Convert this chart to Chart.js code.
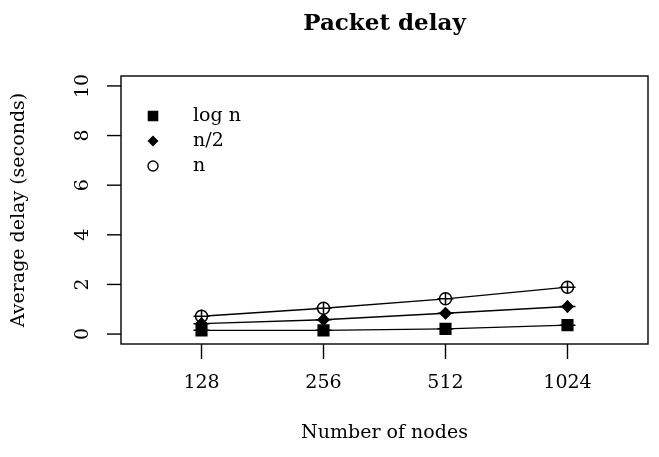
<!DOCTYPE html>
<html>
<head>
<meta charset="utf-8">
<script src="https://cdn.jsdelivr.net/npm/chart.js@4"></script>
<style>
  html, body { margin: 0; padding: 0; background: #fff; }
  #wrap { width: 659px; height: 457px; }
</style>
</head>
<body>
<div id="wrap"><canvas id="delayChart" width="659" height="457"></canvas></div>
<script>
// data
const nodes = ['128', '256', '512', '1024'];
const seriesNames = ['log n', 'n/2', 'n'];
const logN = [0.15, 0.15, 0.21, 0.36];
const halfN = [0.42, 0.58, 0.84, 1.11];
const fullN = [0.72, 1.04, 1.42, 1.89];
const logNErr = [0.22, 0.18, 0.18, 0.2];
const halfNErr = [0.2, 0.18, 0.22, 0.24];
const fullNErr = [0.26, 0.22, 0.24, 0.24];
const yTicks = [0, 2, 4, 6, 8, 10];

const serif = '"DejaVu Serif", "Liberation Serif", serif';

function pts(values) {
  return values.map((v, i) => ({ x: i, y: v }));
}

// R style axes, box, titles, error bars and legend
const baseGraphics = {
  id: 'baseGraphics',
  afterDatasetsDraw(chart) {
    const ctx = chart.ctx;
    const area = chart.chartArea;
    const xs = chart.scales.x;
    const ys = chart.scales.y;
    ctx.save();
    ctx.strokeStyle = '#000';
    ctx.fillStyle = '#000';

    // error bars
    const errs = [logNErr, halfNErr, fullNErr];
    ctx.lineWidth = 1.5;
    chart.data.datasets.forEach((ds, d) => {
      ds.data.forEach((p, i) => {
        const px = xs.getPixelForValue(p.x);
        const top = ys.getPixelForValue(p.y + errs[d][i]);
        const bot = ys.getPixelForValue(p.y - errs[d][i]);
        const mid = ys.getPixelForValue(p.y);
        ctx.beginPath();
        ctx.moveTo(px, top);
        ctx.lineTo(px, bot);
        ctx.moveTo(px - 8, mid);
        ctx.lineTo(px + 8, mid);
        ctx.stroke();
      });
    });

    // box
    ctx.lineWidth = 1.4;
    ctx.strokeRect(area.left, area.top, area.right - area.left, area.bottom - area.top);

    // y axis
    ctx.font = '19px ' + serif;
    yTicks.forEach(t => {
      const py = ys.getPixelForValue(t);
      ctx.beginPath();
      ctx.moveTo(area.left - 14, py);
      ctx.lineTo(area.left, py);
      ctx.stroke();
      ctx.save();
      ctx.translate(area.left - 38, py);
      ctx.rotate(-Math.PI / 2);
      ctx.textAlign = 'center';
      ctx.textBaseline = 'middle';
      ctx.fillText(String(t), 0, 0);
      ctx.restore();
    });

    // x axis
    nodes.forEach((lab, i) => {
      const px = xs.getPixelForValue(i);
      ctx.beginPath();
      ctx.moveTo(px, area.bottom);
      ctx.lineTo(px, area.bottom + 15);
      ctx.stroke();
      ctx.textAlign = 'center';
      ctx.textBaseline = 'middle';
      ctx.fillText(lab, px, area.bottom + 39);
    });

    // axis titles
    ctx.textAlign = 'center';
    ctx.textBaseline = 'middle';
    ctx.fillText('Number of nodes', (area.left + area.right) / 2, 433);
    ctx.save();
    ctx.translate(19, (area.top + area.bottom) / 2);
    ctx.rotate(-Math.PI / 2);
    ctx.fillText('Average delay (seconds)', 0, 0);
    ctx.restore();

    ctx.font = 'bold 23px ' + serif;
    ctx.fillText('Packet delay', (area.left + area.right) / 2, 24);

    // legend
    ctx.font = '19px ' + serif;
    ctx.textAlign = 'left';
    chart.data.datasets.forEach((ds, d) => {
      const ly = 116 + d * 25;
      ctx.lineWidth = 1.4;
      ctx.fillStyle = ds.pointBackgroundColor;
      Chart.helpers.drawPoint(ctx, {
        pointStyle: ds.pointStyle,
        rotation: 0,
        radius: ds.legendRadius,
        borderWidth: 1.4
      }, 153, ly);
      ctx.fillStyle = '#000';
      ctx.fillText(seriesNames[d], 193, ly);
    });
    ctx.restore();
  }
};

function series(label, values, style, radius, legendRadius, fill) {
  return {
    label: label,
    data: pts(values),
    borderColor: '#000',
    borderWidth: 1.4,
    pointStyle: style,
    pointRadius: radius,
    legendRadius: legendRadius,
    pointBorderColor: '#000',
    pointBorderWidth: 1.5,
    pointBackgroundColor: fill,
    fill: false,
    tension: 0
  };
}

new Chart(document.getElementById('delayChart'), {
  type: 'line',
  data: {
    datasets: [
      series(seriesNames[0], logN, 'rect', 7.5, 6.5, '#000'),
      series(seriesNames[1], halfN, 'rectRot', 5.5, 4.5, '#000'),
      series(seriesNames[2], fullN, 'circle', 6, 5, '#fff')
    ]
  },
  options: {
    responsive: false,
    animation: false,
    layout: { padding: { left: 121, right: 11, top: 76, bottom: 113 } },
    plugins: { legend: { display: false }, tooltip: { enabled: false } },
    scales: {
      x: { type: 'linear', min: -0.66, max: 3.66, display: false },
      y: { type: 'linear', min: -0.4, max: 10.4, display: false }
    }
  },
  plugins: [baseGraphics]
});
</script>
</body>
</html>
